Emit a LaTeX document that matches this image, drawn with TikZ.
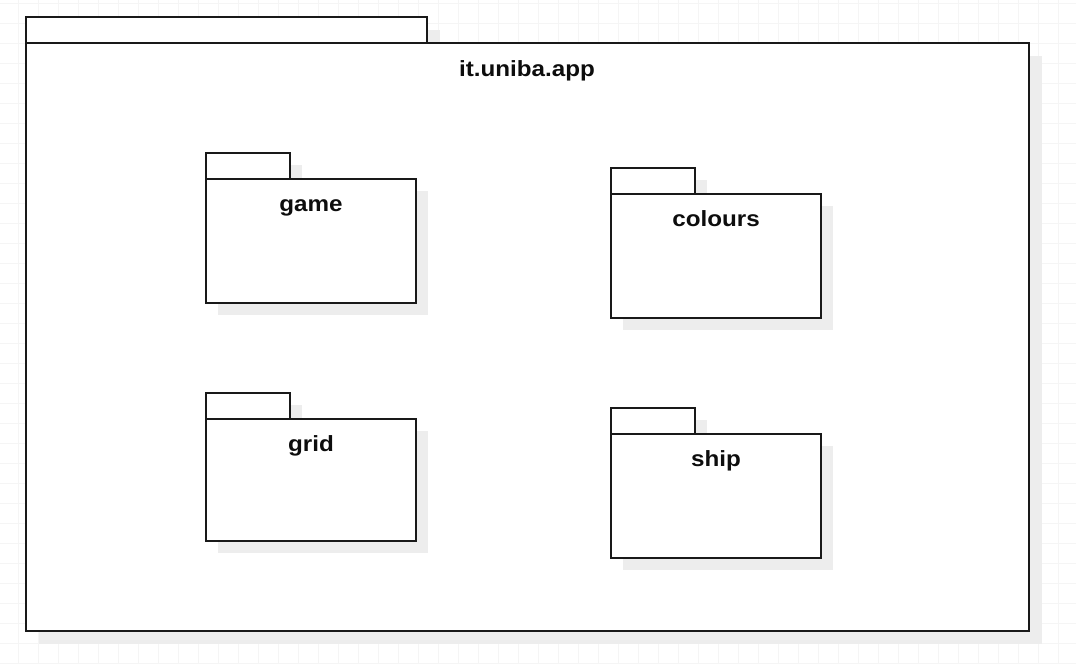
\documentclass[tikz,border=0pt]{standalone}
\usepackage{fontspec}
\setmainfont{Liberation Sans}[FakeStretch=1.1]
\begin{document}
\begin{tikzpicture}[x=1pt,y=-1pt,
  pkgbody/.style={draw=black!90,line width=2pt,fill=white,anchor=north west,inner sep=0pt,outer sep=0pt},
  pkgtab/.style={draw=black!90,line width=2pt,fill=white,anchor=south west,inner sep=0pt,outer sep=0pt},
  pkgshadow/.style={fill=black!7,draw=none},
  gridline/.style={draw=black!4,line width=0.8pt},
  pkglabel/.style={anchor=base,inner sep=0pt,font=\fontsize{22}{26}\selectfont\bfseries,text=black!95}]
\useasboundingbox (0,0) rectangle (1076,664);
\fill[white] (0,0) rectangle (1076,664);
% background grid
\foreach \gx in {18,38,...,1078}{\draw[gridline] (\gx,0) -- (\gx,664);}
\foreach \gy in {3,23,...,663}{\draw[gridline] (0,\gy) -- (1076,\gy);}
% outer package it.uniba.app with its shadow
\fill[pkgshadow] (39,30) rectangle (440,57);
\fill[pkgshadow] (39,56) rectangle (1042,644);
\node[pkgtab,minimum width=401,minimum height=26] (apptab) at (26,43) {};
\node[pkgbody,minimum width=1003,minimum height=588] (app) at (26,43) {};
\node[pkglabel] (applabel) at (527,76) {it.uniba.app};
% shadows of the inner packages
\fill[pkgshadow] (218,165) rectangle (302,193);
\fill[pkgshadow] (218,191) rectangle (428,315);
\fill[pkgshadow] (623,180) rectangle (707,208);
\fill[pkgshadow] (623,206) rectangle (833,330);
\fill[pkgshadow] (218,405) rectangle (302,433);
\fill[pkgshadow] (218,431) rectangle (428,553);
\fill[pkgshadow] (623,420) rectangle (707,448);
\fill[pkgshadow] (623,446) rectangle (833,570);
% package game
\node[pkgtab,minimum width=84,minimum height=26] (gametab) at (206,179) {};
\node[pkgbody,minimum width=210,minimum height=124] (game) at (206,179) {};
\node[pkglabel] (gamelabel) at (311,211) {game};
% package colours
\node[pkgtab,minimum width=84,minimum height=26] (colourstab) at (611,194) {};
\node[pkgbody,minimum width=210,minimum height=124] (colours) at (611,194) {};
\node[pkglabel] (colourslabel) at (716,226) {colours};
% package grid
\node[pkgtab,minimum width=84,minimum height=26] (gridtab) at (206,419) {};
\node[pkgbody,minimum width=210,minimum height=122] (grid) at (206,419) {};
\node[pkglabel] (gridlabel) at (311,451) {grid};
% package ship
\node[pkgtab,minimum width=84,minimum height=26] (shiptab) at (611,434) {};
\node[pkgbody,minimum width=210,minimum height=124] (ship) at (611,434) {};
\node[pkglabel] (shiplabel) at (716,466) {ship};
\end{tikzpicture}
\end{document}
